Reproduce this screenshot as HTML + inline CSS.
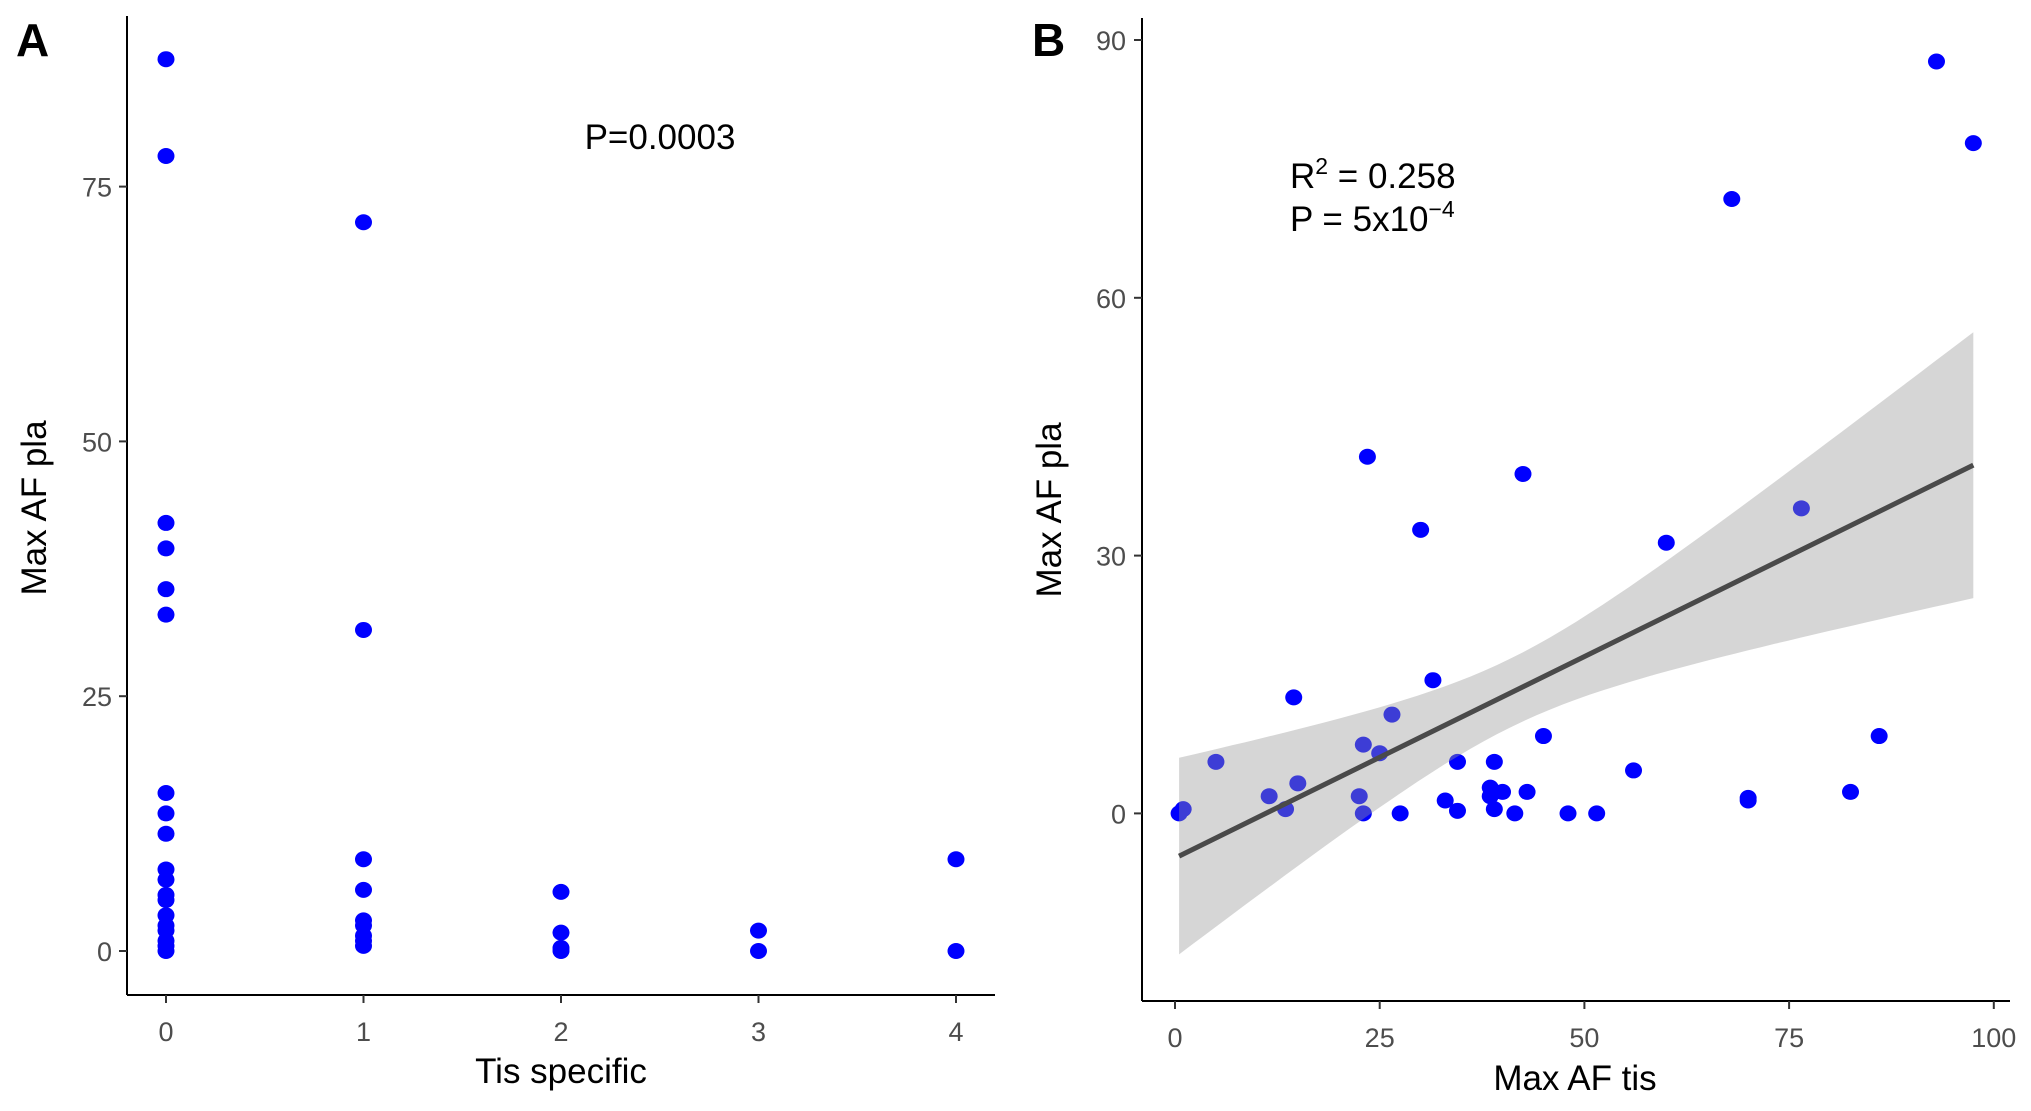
<!DOCTYPE html>
<html><head><meta charset="utf-8"><style>
html,body{margin:0;padding:0;background:#fff}
svg{display:block;font-family:"Liberation Sans",Arial,sans-serif}
</style></head><body>
<svg id="fig" width="2031" height="1111" viewBox="0 0 2031 1111" xmlns="http://www.w3.org/2000/svg">
<g id="panelA"></g>
<g id="panelB"></g>
</svg>
<script>
// Panel A data
const catsA = [0,0,0,0,0,0,0,0,0,0,0,0,0,0,0,0,0,0,0, 1,1,1,1,1,1,1,1,1, 2,2,2,2, 3,3, 4,4];
const valsA = [87.5,78,42,39.5,35.5,33,15.5,13.5,11.5,8,7,5.5,5,3.5,2.5,2,1,0.5,0, 71.5,31.5,9,6,3,2.5,1.5,1,0.5, 5.8,1.8,0.3,0, 2,0, 9,0];
const xTicksA = [0,1,2,3,4];
const yTicksA = [0,25,50,75];
// Panel B data
const xB = [0.5,1,5,11.5,13.5,14.5,15,22.5,23,23,23.5,25,26.5,27.5,30,31.5,33,34.5,34.5,38.5,38.5,39,39,40,41.5,42.5,43,45,48,51.5,56,60,68,70,70,76.5,82.5,86,93,97.5];
const yB = [0,0.5,6,2,0.5,13.5,3.5,2,8,0,41.5,7,11.5,0,33,15.5,1.5,6,0.3,3,2,6,0.5,2.5,0,39.5,2.5,9,0,0,5,31.5,71.5,1.5,1.8,35.5,2.5,9,87.5,78];
const xTicksB = [0,25,50,75,100];
const yTicksB = [0,30,60,90];
const fitB = [-5.2, 0.469]; // intercept, slope
const ciB = [4, 0.07, 41]; // min half-width, curvature, centre x

const NS="http://www.w3.org/2000/svg";
function mk(p,tag,attrs,txt){const e=document.createElementNS(NS,tag);for(const k in attrs)e.setAttribute(k,attrs[k]);if(txt!==undefined)e.textContent=txt;p.appendChild(e);return e;}

// ----- Panel A -----
const A=document.getElementById('panelA');
const axA=x=>166+x*197.5;
const ayA=y=>951-y*(254.8/25);
let e;
e=mk(A,'line',{x1:127,y1:16,x2:127,y2:995,stroke:'#000','stroke-width':2});


e=mk(A,'line',{x1:127,y1:995,x2:995,y2:995,stroke:'#000','stroke-width':2});


xTicksA.forEach(t=>{
  e=mk(A,'line',{x1:axA(t),y1:995,x2:axA(t),y2:1003,stroke:'#333','stroke-width':2});
  
  
  e=mk(A,'text',{x:axA(t),y:1041,'text-anchor':'middle','font-size':27,fill:'#4d4d4d'},t);
  
  
});
yTicksA.forEach(t=>{
  e=mk(A,'line',{x1:119,y1:ayA(t),x2:127,y2:ayA(t),stroke:'#333','stroke-width':2});
  
  
  e=mk(A,'text',{x:112,y:ayA(t)+10,'text-anchor':'end','font-size':27,fill:'#4d4d4d'},t);
  
  
});
catsA.forEach((c,i)=>{
  e=mk(A,'ellipse',{cx:axA(c),cy:ayA(valsA[i]),rx:8.5,ry:8,fill:'#0000ff'});
  
  
});
e=mk(A,'text',{x:561,y:1083,'text-anchor':'middle','font-size':35,fill:'#000'},'Tis specific');


e=mk(A,'text',{x:0,y:0,'text-anchor':'middle','font-size':35,fill:'#000',transform:'translate(46,508) rotate(-90)'},'Max AF pla');


e=mk(A,'text',{x:660,y:149,'text-anchor':'middle','font-size':35,fill:'#000'},'P=0.0003');


e=mk(A,'text',{x:16,y:56,'font-size':46,'font-weight':'bold',fill:'#000'},'A');



// ----- Panel B -----
const B=document.getElementById('panelB');
const axB=x=>1175+x*(204.7/25);
const ayB=y=>813.4-y*(257.8/30);
e=mk(B,'line',{x1:1142,y1:18,x2:1142,y2:1001,stroke:'#000','stroke-width':2});


e=mk(B,'line',{x1:1142,y1:1001,x2:2010,y2:1001,stroke:'#000','stroke-width':2});


xTicksB.forEach(t=>{
  e=mk(B,'line',{x1:axB(t),y1:1001,x2:axB(t),y2:1009,stroke:'#333','stroke-width':2});
  
  
  e=mk(B,'text',{x:axB(t),y:1047,'text-anchor':'middle','font-size':27,fill:'#4d4d4d'},t);
  
  
});
yTicksB.forEach(t=>{
  e=mk(B,'line',{x1:1134,y1:ayB(t),x2:1142,y2:ayB(t),stroke:'#333','stroke-width':2});
  
  
  e=mk(B,'text',{x:1126,y:ayB(t)+10,'text-anchor':'end','font-size':27,fill:'#4d4d4d'},t);
  
  
});
xB.forEach((x,i)=>{
  e=mk(B,'ellipse',{cx:axB(x),cy:ayB(yB[i]),rx:8.5,ry:8,fill:'#0000ff'});
  
  
});
const xmin=Math.min(...xB), xmax=Math.max(...xB);
const fit=x=>fitB[0]+fitB[1]*x;
const hw=x=>Math.sqrt(ciB[0]*ciB[0]+ciB[1]*(x-ciB[2])*(x-ciB[2]));
let up=[],lo=[];
for(let k=0;k<=60;k++){const x=xmin+(xmax-xmin)*k/60;up.push(axB(x).toFixed(1)+','+ayB(fit(x)+hw(x)).toFixed(1));lo.unshift(axB(x).toFixed(1)+','+ayB(fit(x)-hw(x)).toFixed(1));}
e=mk(B,'polygon',{points:up.concat(lo).join(' '),fill:'rgba(153,153,153,0.4)'});


e=mk(B,'line',{x1:axB(xmin),y1:ayB(fit(xmin)),x2:axB(xmax),y2:ayB(fit(xmax)),stroke:'#4a4a4a','stroke-width':5});


e=mk(B,'text',{x:1575,y:1090,'text-anchor':'middle','font-size':35,fill:'#000'},'Max AF tis');


e=mk(B,'text',{x:0,y:0,'text-anchor':'middle','font-size':35,fill:'#000',transform:'translate(1061,510) rotate(-90)'},'Max AF pla');


e=mk(B,'text',{x:1290,y:188,'font-size':35,fill:'#000'});


e.innerHTML='R<tspan font-size="23" dy="-14">2</tspan><tspan dy="14"> = 0.258</tspan>';
e=mk(B,'text',{x:1290,y:231,'font-size':35,fill:'#000'});


e.innerHTML='P = 5x10<tspan font-size="23" dy="-14">−4</tspan>';
e=mk(B,'text',{x:1032,y:56,'font-size':46,'font-weight':'bold',fill:'#000'},'B');


</script>
</body></html>
